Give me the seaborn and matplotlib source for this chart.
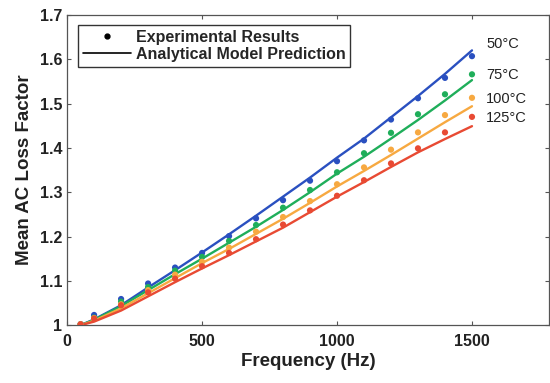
import numpy as np
import pandas as pd
import matplotlib
matplotlib.use('Agg')
import matplotlib.pyplot as plt
import seaborn as sns
from matplotlib.lines import Line2D

# 1. Data
freq = [50, 100, 200, 300, 400, 500, 600, 700, 800, 900, 1000, 1100, 1200, 1300, 1400, 1500]
temps = ['50°C', '75°C', '100°C', '125°C']

exp_50 = [1.002, 1.023, 1.059, 1.094, 1.130, 1.163, 1.201, 1.241, 1.282, 1.326, 1.370, 1.417, 1.464, 1.512, 1.558, 1.607]
exp_75 = [1.002, 1.017, 1.053, 1.086, 1.123, 1.154, 1.190, 1.226, 1.265, 1.305, 1.345, 1.388, 1.434, 1.476, 1.521, 1.566]
exp_100 = [1.002, 1.016, 1.047, 1.079, 1.114, 1.143, 1.175, 1.211, 1.244, 1.280, 1.318, 1.356, 1.396, 1.435, 1.474, 1.513]
exp_125 = [1.002, 1.015, 1.045, 1.074, 1.105, 1.133, 1.163, 1.194, 1.227, 1.259, 1.292, 1.327, 1.365, 1.399, 1.435, 1.470]

model_50 = [1.000, 1.013, 1.045, 1.085, 1.124, 1.164, 1.205, 1.247, 1.290, 1.333, 1.378, 1.421, 1.469, 1.517, 1.567, 1.620]
model_75 = [1.000, 1.012, 1.043, 1.079, 1.115, 1.150, 1.186, 1.222, 1.260, 1.300, 1.342, 1.380, 1.421, 1.463, 1.507, 1.553]
model_100 = [1.000, 1.010, 1.038, 1.072, 1.106, 1.140, 1.172, 1.206, 1.240, 1.276, 1.313, 1.348, 1.384, 1.421, 1.458, 1.494]
model_125 = [1.000, 1.008, 1.033, 1.065, 1.097, 1.128, 1.158, 1.189, 1.220, 1.255, 1.290, 1.323, 1.357, 1.390, 1.420, 1.449]

label_y = [1.634, 1.564, 1.510, 1.468]
label_x = 1552

colors = {'50°C': '#2a50c0', '75°C': '#1fae5a', '100°C': '#f7a941', '125°C': '#e84a33'}

# 2. Long-form tables
exp_df = pd.DataFrame({
    'Frequency': freq * 4,
    'Factor': exp_50 + exp_75 + exp_100 + exp_125,
    'Temp': np.repeat(temps, len(freq)),
})
model_df = pd.DataFrame({
    'Frequency': freq * 4,
    'Factor': model_50 + model_75 + model_100 + model_125,
    'Temp': np.repeat(temps, len(freq)),
})

# 3. Plot
sns.set_style('ticks')
plt.rcParams['font.family'] = ['Liberation Sans', 'DejaVu Sans']

fig = plt.figure(figsize=(5.5, 3.83), dpi=100)
ax = fig.add_axes([0.122, 0.151, 0.876, 0.81])

sns.lineplot(data=model_df, x='Frequency', y='Factor', hue='Temp', palette=colors,
             linewidth=1.7, legend=False, ax=ax)
sns.scatterplot(data=exp_df, x='Frequency', y='Factor', hue='Temp', palette=colors,
                s=20, edgecolor='none', legend=False, ax=ax, zorder=3)

for t, yv in zip(temps, label_y):
    ax.text(label_x, yv, t, fontsize=10.5, va='center', ha='left', color='#222222')

ax.set_xlim(0, 1785)
ax.set_ylim(1, 1.7)
ax.set_xticks([0, 500, 1000, 1500])
ax.set_yticks(np.arange(1.0, 1.71, 0.1))
ax.yaxis.set_major_formatter(matplotlib.ticker.FormatStrFormatter('%g'))
ax.tick_params(direction='in', top=True, right=True, length=3, width=0.8,
               colors='#555555', labelcolor='#222222', labelsize=11.5)
ax.tick_params(axis='x', pad=6)
for lab in ax.get_xticklabels() + ax.get_yticklabels():
    lab.set_fontweight('bold')
for sp in ax.spines.values():
    sp.set_visible(True)
    sp.set_color('#555555')
    sp.set_linewidth(0.9)

ax.set_xlabel('Frequency (Hz)', fontsize=13.5, fontweight='bold', color='#222222', labelpad=3)
ax.set_ylabel('Mean AC Loss Factor', fontsize=13.5, fontweight='bold', color='#222222', labelpad=5)

handles = [Line2D([], [], marker='.', color='black', linestyle='none', markersize=7),
           Line2D([], [], color='black', linewidth=1.2)]
leg = ax.legend(handles, ['Experimental Results', 'Analytical Model Prediction'],
                loc='upper left', bbox_to_anchor=(0.023, 0.968), borderaxespad=0,
                fancybox=False, framealpha=1, edgecolor='#333333',
                handlelength=3.0, handletextpad=0.3, borderpad=0.3, labelspacing=0.15,
                prop={'weight': 'bold', 'size': 11.5})
leg.get_frame().set_linewidth(1.0)

fig.savefig('out.png', dpi=100)
